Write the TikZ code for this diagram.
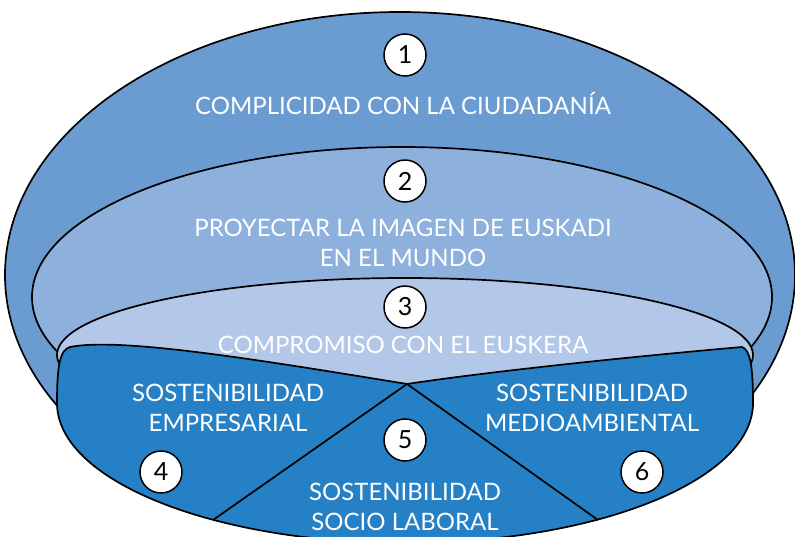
\documentclass[tikz,border=0pt]{standalone}
\usepackage{fontspec}
\setmainfont{Lato}
\usepackage{xcolor}
\usetikzlibrary{positioning}

\definecolor{capaUno}{HTML}{6A9BD1}
\definecolor{capaDos}{HTML}{8EB0DC}
\definecolor{capaTres}{HTML}{B3C7E8}
\definecolor{capaBase}{HTML}{2680C5}

\tikzset{
  capa/.style={draw=black, line width=1.7pt},
  numcirc/.style={circle, draw=black, line width=1.5pt, fill=white,
    minimum size=42pt, inner sep=0pt, font=\fontsize{25}{26}\selectfont},
  lbl/.style={text=white, align=center, inner sep=0pt,
    font=\fontsize{24}{30}\selectfont},
}

\begin{document}
\begin{tikzpicture}[x=1pt, y=-1pt]
			\useasboundingbox (0,0) rectangle (795,536);
			\clip (0,0) rectangle (795,536);
			% capas de fondo
			\draw[capa, fill=capaUno] (400,275) ellipse [x radius=395, y radius=263];
			\draw[capa, fill=capaDos] (402,297) ellipse [x radius=370, y radius=150];
			\draw[capa, fill=capaTres] (405,355) ellipse [x radius=348, y radius=77];
			% base con las tres sostenibilidades
			\coordinate (vertice) at (407,384);
			\coordinate (pieIzq) at (213,520);
			\coordinate (pieDer) at (598,520);
			\draw[capa, fill=capaBase] (vertice)
				.. controls (260,360) and (120,337) .. (70,347)
				.. controls (60,350) and (57,365) .. (57,403)
				arc[start angle=180, end angle=0, x radius=348, y radius=140]
				.. controls (753,365) and (750,350) .. (742,347)
				.. controls (650,355) and (500,370) .. cycle;
			\draw[capa] (vertice) -- (pieIzq);
			\draw[capa] (vertice) -- (pieDer);
			% textos
			\node[lbl] (t1) at (403,103) {COMPLICIDAD CON LA CIUDADANÍA};
			\node[lbl] (t2) at (403,243) {PROYECTAR LA IMAGEN DE EUSKADI\\EN EL MUNDO};
			\node[lbl] (t3) at (403,345) {COMPROMISO CON EL EUSKERA};
			\node[lbl] (t4) at (228,408) {SOSTENIBILIDAD\\EMPRESARIAL};
			\node[lbl] (t5) at (405,507) {SOSTENIBILIDAD\\SOCIO LABORAL};
			\node[lbl] (t6) at (592,408) {SOSTENIBILIDAD\\MEDIOAMBIENTAL};
			% numeros
			\node[numcirc] (n1) at (405,55) {1};
			\node[numcirc] (n2) at (405,181) {2};
			\node[numcirc] (n3) at (405,307) {3};
			\node[numcirc] (n4) at (161,472) {4};
			\node[numcirc] (n5) at (405,440) {5};
			\node[numcirc] (n6) at (642,472) {6};
		\end{tikzpicture}
\end{document}
